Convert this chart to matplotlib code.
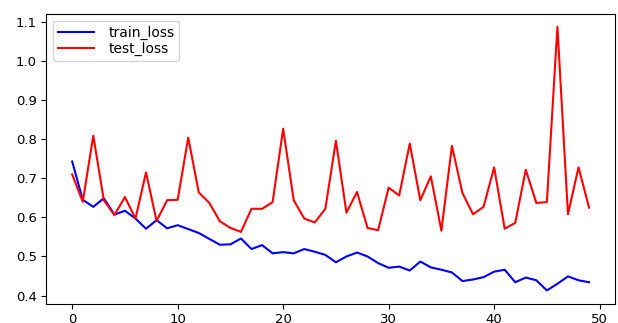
import matplotlib
matplotlib.use("Agg")
import matplotlib.pyplot as plt

epochs = list(range(50))

train_loss = [0.743, 0.645, 0.627, 0.649, 0.607, 0.617, 0.597, 0.571, 0.593, 0.572,
              0.580, 0.570, 0.560, 0.545, 0.530, 0.531, 0.546, 0.519, 0.529, 0.508,
              0.511, 0.508, 0.519, 0.512, 0.504, 0.485, 0.500, 0.510, 0.500, 0.483,
              0.471, 0.474, 0.464, 0.487, 0.472, 0.466, 0.459, 0.437, 0.441, 0.447,
              0.461, 0.466, 0.434, 0.446, 0.439, 0.413, 0.430, 0.449, 0.439, 0.434]

test_loss = [0.710, 0.640, 0.809, 0.644, 0.606, 0.652, 0.597, 0.715, 0.591, 0.644,
             0.645, 0.804, 0.664, 0.637, 0.590, 0.573, 0.563, 0.622, 0.622, 0.639,
             0.827, 0.644, 0.597, 0.587, 0.622, 0.796, 0.612, 0.665, 0.573, 0.567,
             0.676, 0.656, 0.789, 0.644, 0.705, 0.566, 0.783, 0.662, 0.608, 0.627,
             0.728, 0.571, 0.586, 0.722, 0.637, 0.639, 1.088, 0.608, 0.728, 0.625]

fig = plt.figure(figsize=(6.18, 3.23), dpi=100)
ax = fig.add_axes([0.075, 0.06, 0.92, 0.898])

ax.plot(epochs, train_loss, color="b", label="train_loss")
ax.plot(epochs, test_loss, color="r", label="test_loss")
ax.legend(loc="upper left", fontsize=10, handlelength=2.6, labelspacing=0.15,
          handletextpad=1.0, borderpad=0.35)
ax.tick_params(labelsize=9.5)

fig.savefig("out.png", dpi=100)
